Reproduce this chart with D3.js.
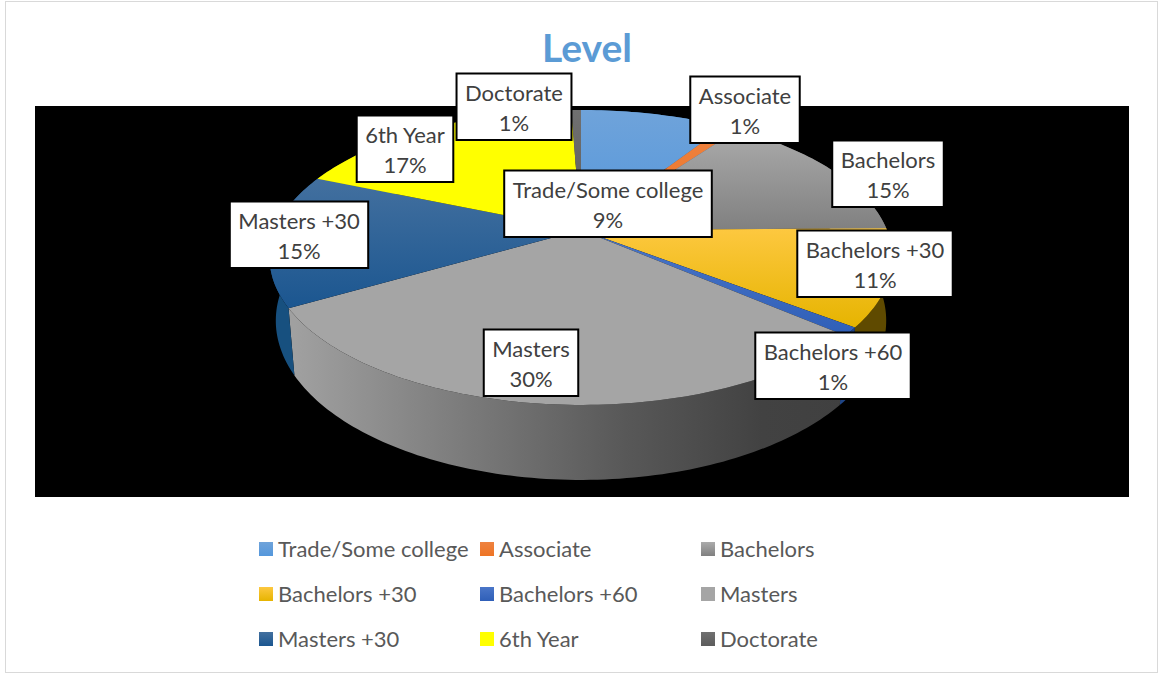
<!DOCTYPE html>
<html>
<head>
<meta charset="utf-8">
<script src="https://cdn.jsdelivr.net/npm/d3@7"></script>
<style>
  html, body { margin: 0; padding: 0; background: #fff; }
  svg { display: block; }
  text { font-family: Lato, "Open Sans", sans-serif; }
</style>
</head>
<body>
<div id="chart"></div>
<script>
// Data
const categories = ['Trade/Some college', 'Associate', 'Bachelors', 'Bachelors +30', 'Bachelors +60',
    'Masters', 'Masters +30', '6th Year', 'Doctorate'];
// share of the circle each wedge takes up in the drawing
const wedgeShares = [9.1, 0.9, 14.8, 10.6, 0.9, 30.4, 14.6, 18.1, 0.6];
// percentages as printed on the data labels
const printedPercents = [9, 1, 15, 11, 1, 30, 15, 17, 1];

// top colours, bottom colours and side wall colours
const topColors = ['#6fa3da', '#ee8240', '#ababab', '#fdc840', '#4a76c8', '#a5a5a5', '#43709f', '#ffff00', '#707070'];
const bottomColors = ['#5497dc', '#ee7424', '#808080', '#e6b400', '#2f5fb8', '#a5a5a5', '#1b5690', '#ffff00', '#5c5c5c'];
const wallColors = ['#3a6a9a', '#a85520', '#666666', '#5f4a00', '#1f4586', '#707070', '#17507f', '#8f8f00', '#3c3c3c'];

// Layout
const width = 1160, height = 677;
const plot = { x: 35, y: 106, w: 1094, h: 391 };
const pieCx = 581, pieR = 306, depth = 75;
const persp = { a: 99.6, b: 230, c: -0.186 };
const baseShrink = 0.98; // far face of the disc is a little narrower

// label centres, these were dragged by hand in the original chart
const labelCenters = [[608, 204], [745, 110], [888, 174], [875, 264], [833, 366], [531, 363], [299, 235], [405, 149], [514, 107]];

const svg = d3.select('#chart').append('svg')
    .attr('width', width)
    .attr('height', height);

const defs = svg.append('defs');

// one vertical gradient per category
categories.forEach((c, i) => {
    const g = defs.append('linearGradient')
        .attr('id', `grad-${i}`)
        .attr('x1', 0).attr('y1', 0).attr('x2', 0).attr('y2', 1);
    g.append('stop').attr('offset', '0%').attr('stop-color', topColors[i]);
    g.append('stop').attr('offset', '100%').attr('stop-color', bottomColors[i]);
});

// the big front wall goes from light on the left to dark on the right
const wallGrad = defs.append('linearGradient').attr('id', 'wall-masters')
    .attr('gradientUnits', 'userSpaceOnUse')
    .attr('x1', 295).attr('y1', 0).attr('x2', 845).attr('y2', 0);
wallGrad.append('stop').attr('offset', '0%').attr('stop-color', '#a0a0a0');
wallGrad.append('stop').attr('offset', '30%').attr('stop-color', '#7c7c7c');
wallGrad.append('stop').attr('offset', '60%').attr('stop-color', '#585858');
wallGrad.append('stop').attr('offset', '85%').attr('stop-color', '#424242');
wallGrad.append('stop').attr('offset', '100%').attr('stop-color', '#404040');

// chart frame
svg.append('rect')
    .attr('x', 5.5).attr('y', 1.5)
    .attr('width', 1152).attr('height', 671)
    .attr('fill', '#fff')
    .attr('stroke', '#d9d9d9');

svg.append('rect')
    .attr('x', plot.x).attr('y', plot.y)
    .attr('width', plot.w).attr('height', plot.h)
    .attr('fill', '#000');

svg.append('text')
    .attr('x', 587).attr('y', 62)
    .attr('text-anchor', 'middle')
    .attr('font-size', 39)
    .attr('font-weight', 700)
    .attr('fill', '#5b9bd5')
    .text('Level');

// Perspective: angle on the circle -> point on screen, zero at the top and clockwise
function project(angle, drop) {
    const u = Math.sin(angle);
    const v = -Math.cos(angle);
    const w = 1 + persp.c * v;
    const r = drop ? pieR * baseShrink : pieR;
    return [
        pieCx + r * u / w,
        (persp.a * v + persp.b) / w + drop * 0.814 / w
    ];
}

function arcPoints(d, drop) {
    const steps = Math.max(2, Math.ceil((d.endAngle - d.startAngle) / 0.02));
    const angle = d3.scaleLinear().domain([0, steps]).range([d.startAngle, d.endAngle]);
    return d3.range(steps + 1).map(i => project(angle(i), drop));
}

const pie = d3.pie().sort(null).startAngle(0).endAngle(2 * Math.PI);
const slices = pie(wedgeShares);
const line = d3.line();

const chart = svg.append('g').attr('class', 'pie');

// side walls first, the top faces cover whatever is behind
chart.append('g')
    .selectAll('path')
    .data(slices)
    .join('path')
    .attr('d', d => line(arcPoints(d, 0).concat(arcPoints(d, depth).reverse())) + 'Z')
    .attr('fill', d => d.index === 5 ? 'url(#wall-masters)' : wallColors[d.index]);

const apex = [pieCx, persp.b];
chart.append('g')
    .selectAll('path')
    .data(slices)
    .join('path')
    .attr('d', d => line([apex].concat(arcPoints(d, 0))) + 'Z')
    .attr('fill', d => `url(#grad-${d.index})`);

// Data labels
const labels = svg.append('g').attr('class', 'labels')
    .selectAll('g')
    .data(categories)
    .join('g')
    .attr('transform', (d, i) => `translate(${labelCenters[i][0]},${labelCenters[i][1]})`);

labels.append('rect').attr('fill', '#fff').attr('stroke', '#000').attr('stroke-width', 2);

labels.append('text')
    .attr('class', 'name')
    .attr('text-anchor', 'middle')
    .attr('y', -6)
    .attr('font-size', 22)
    .attr('fill', '#404040')
    .text(d => d);

labels.append('text')
    .attr('text-anchor', 'middle')
    .attr('y', 24)
    .attr('font-size', 22)
    .attr('fill', '#404040')
    .text((d, i) => `${printedPercents[i]}%`);

// size the boxes from the measured text
labels.each(function() {
    const g = d3.select(this);
    const w = g.select('.name').node().getComputedTextLength() + 17;
    g.select('rect')
        .attr('x', -w / 2).attr('y', -33.5)
        .attr('width', w).attr('height', 66.5);
});

// Legend, three rows of three
const legendX = d3.scalePoint().domain([0, 1, 2]).range([259, 701]);
const legendY = d3.scalePoint().domain([0, 1, 2]).range([549, 639]);

const legend = svg.append('g').attr('class', 'legend')
    .selectAll('g')
    .data(categories)
    .join('g')
    .attr('transform', (d, i) => `translate(${legendX(i % 3)},${legendY(Math.floor(i / 3))})`);

legend.append('rect')
    .attr('x', 0).attr('y', -7)
    .attr('width', 14).attr('height', 14)
    .attr('fill', (d, i) => `url(#grad-${i})`);

legend.append('text')
    .attr('x', 19).attr('y', 8)
    .attr('font-size', 22)
    .attr('fill', '#595959')
    .text(d => d);
</script>
</body>
</html>
